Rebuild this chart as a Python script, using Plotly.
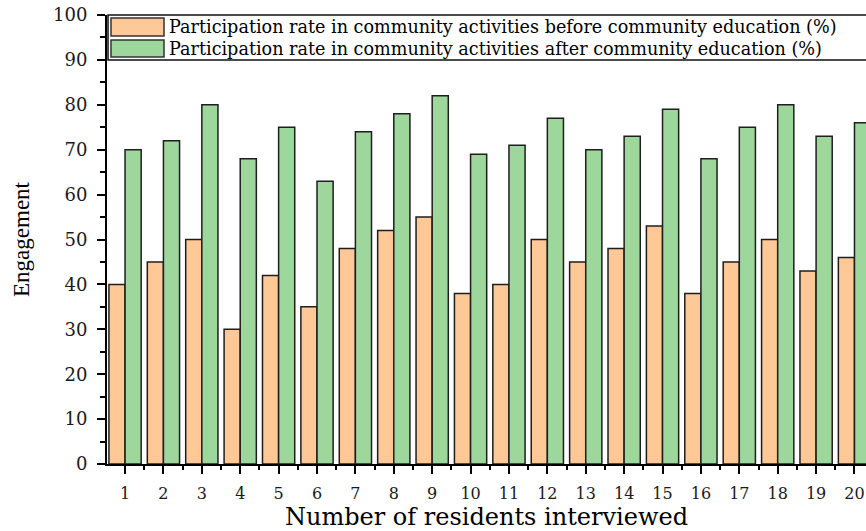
import plotly.graph_objects as go

# Residents interviewed (x categories) and participation rates (%)
residents = list(range(1, 21))
before_edu = [40, 45, 50, 30, 42, 35, 48, 52, 55, 38, 40, 50, 45, 48, 53, 38, 45, 50, 43, 46]
after_edu = [70, 72, 80, 68, 75, 63, 74, 78, 82, 69, 71, 77, 70, 73, 79, 68, 75, 80, 73, 76]

series_names = [
    "Participation rate in community activities before community education (%)",
    "Participation rate in community activities after community education (%)",
]
series_colors = ["#FFC896", "#9ED79B"]

W, H = 866, 531
ML, MR, MT, MB = 107, 0, 15, 67

fig = go.Figure()
for name, vals, col in zip(series_names, [before_edu, after_edu], series_colors):
    fig.add_trace(go.Bar(
        x=residents, y=vals, name=name,
        marker=dict(color=col, line=dict(color="#1e1e1e", width=1.5)),
        showlegend=False,
    ))

# Boxed key across the top of the plotting area
pw = W - ML - MR
ph = H - MT - MB
def px_x(p):
    return (p - ML) / pw
def px_y(p):
    return 1 - (p - MT) / ph

shapes = [dict(type="rect", xref="paper", yref="paper",
               x0=px_x(108), x1=1.01, y0=px_y(60), y1=1.0,
               line=dict(color="#111111", width=1.5), fillcolor="white", layer="above")]
annotations = []
rows = [(18, 36), (40, 57)]
for (t, b), name, col in zip(rows, series_names, series_colors):
    shapes.append(dict(type="rect", xref="paper", yref="paper",
                       x0=px_x(111), x1=px_x(164), y0=px_y(b), y1=px_y(t),
                       line=dict(color="#333333", width=1.5), fillcolor=col, layer="above"))
    annotations.append(dict(xref="paper", yref="paper", x=px_x(167), y=px_y((t + b) / 2),
                            text=name, showarrow=False, xanchor="left", yanchor="middle",
                            font=dict(family="DejaVu Serif", size=17.6, color="#000000")))

fig.update_layout(
    width=W, height=H,
    margin=dict(l=ML, r=MR, t=MT, b=MB, pad=0),
    plot_bgcolor="white", paper_bgcolor="white",
    barmode="group", bargap=0.16, bargroupgap=0.0,
    shapes=shapes, annotations=annotations,
    xaxis=dict(
        range=[0.53, 20.3], tickmode="linear", tick0=1, dtick=1,
        showgrid=False, zeroline=False,
        showline=True, linecolor="#000000", linewidth=2,
        ticks="outside", ticklen=8, tickwidth=2, tickcolor="#000000",
        minor=dict(ticks="outside", ticklen=4, tickwidth=2, tickcolor="#000000",
                   tick0=0.5, dtick=1, showgrid=False),
        tickfont=dict(family="DejaVu Serif", size=16, color="#1a1a1a"),
        ticklabelstandoff=6,
        title=dict(text="Number of residents interviewed", standoff=5,
                   font=dict(family="DejaVu Serif", size=24, color="#000000")),
    ),
    yaxis=dict(
        range=[0, 100], tickmode="linear", tick0=0, dtick=10,
        showgrid=False, zeroline=False,
        showline=True, linecolor="#000000", linewidth=2,
        ticks="outside", ticklen=8, tickwidth=2, tickcolor="#000000",
        minor=dict(ticks="outside", ticklen=5, tickwidth=2, tickcolor="#000000",
                   dtick=5, showgrid=False),
        tickfont=dict(family="DejaVu Serif", size=18, color="#1a1a1a"),
        ticklabelstandoff=6,
        title=dict(text="Engagement", standoff=17,
                   font=dict(family="Liberation Serif", size=23, color="#000000")),
    ),
)

fig.write_html("out.html")
